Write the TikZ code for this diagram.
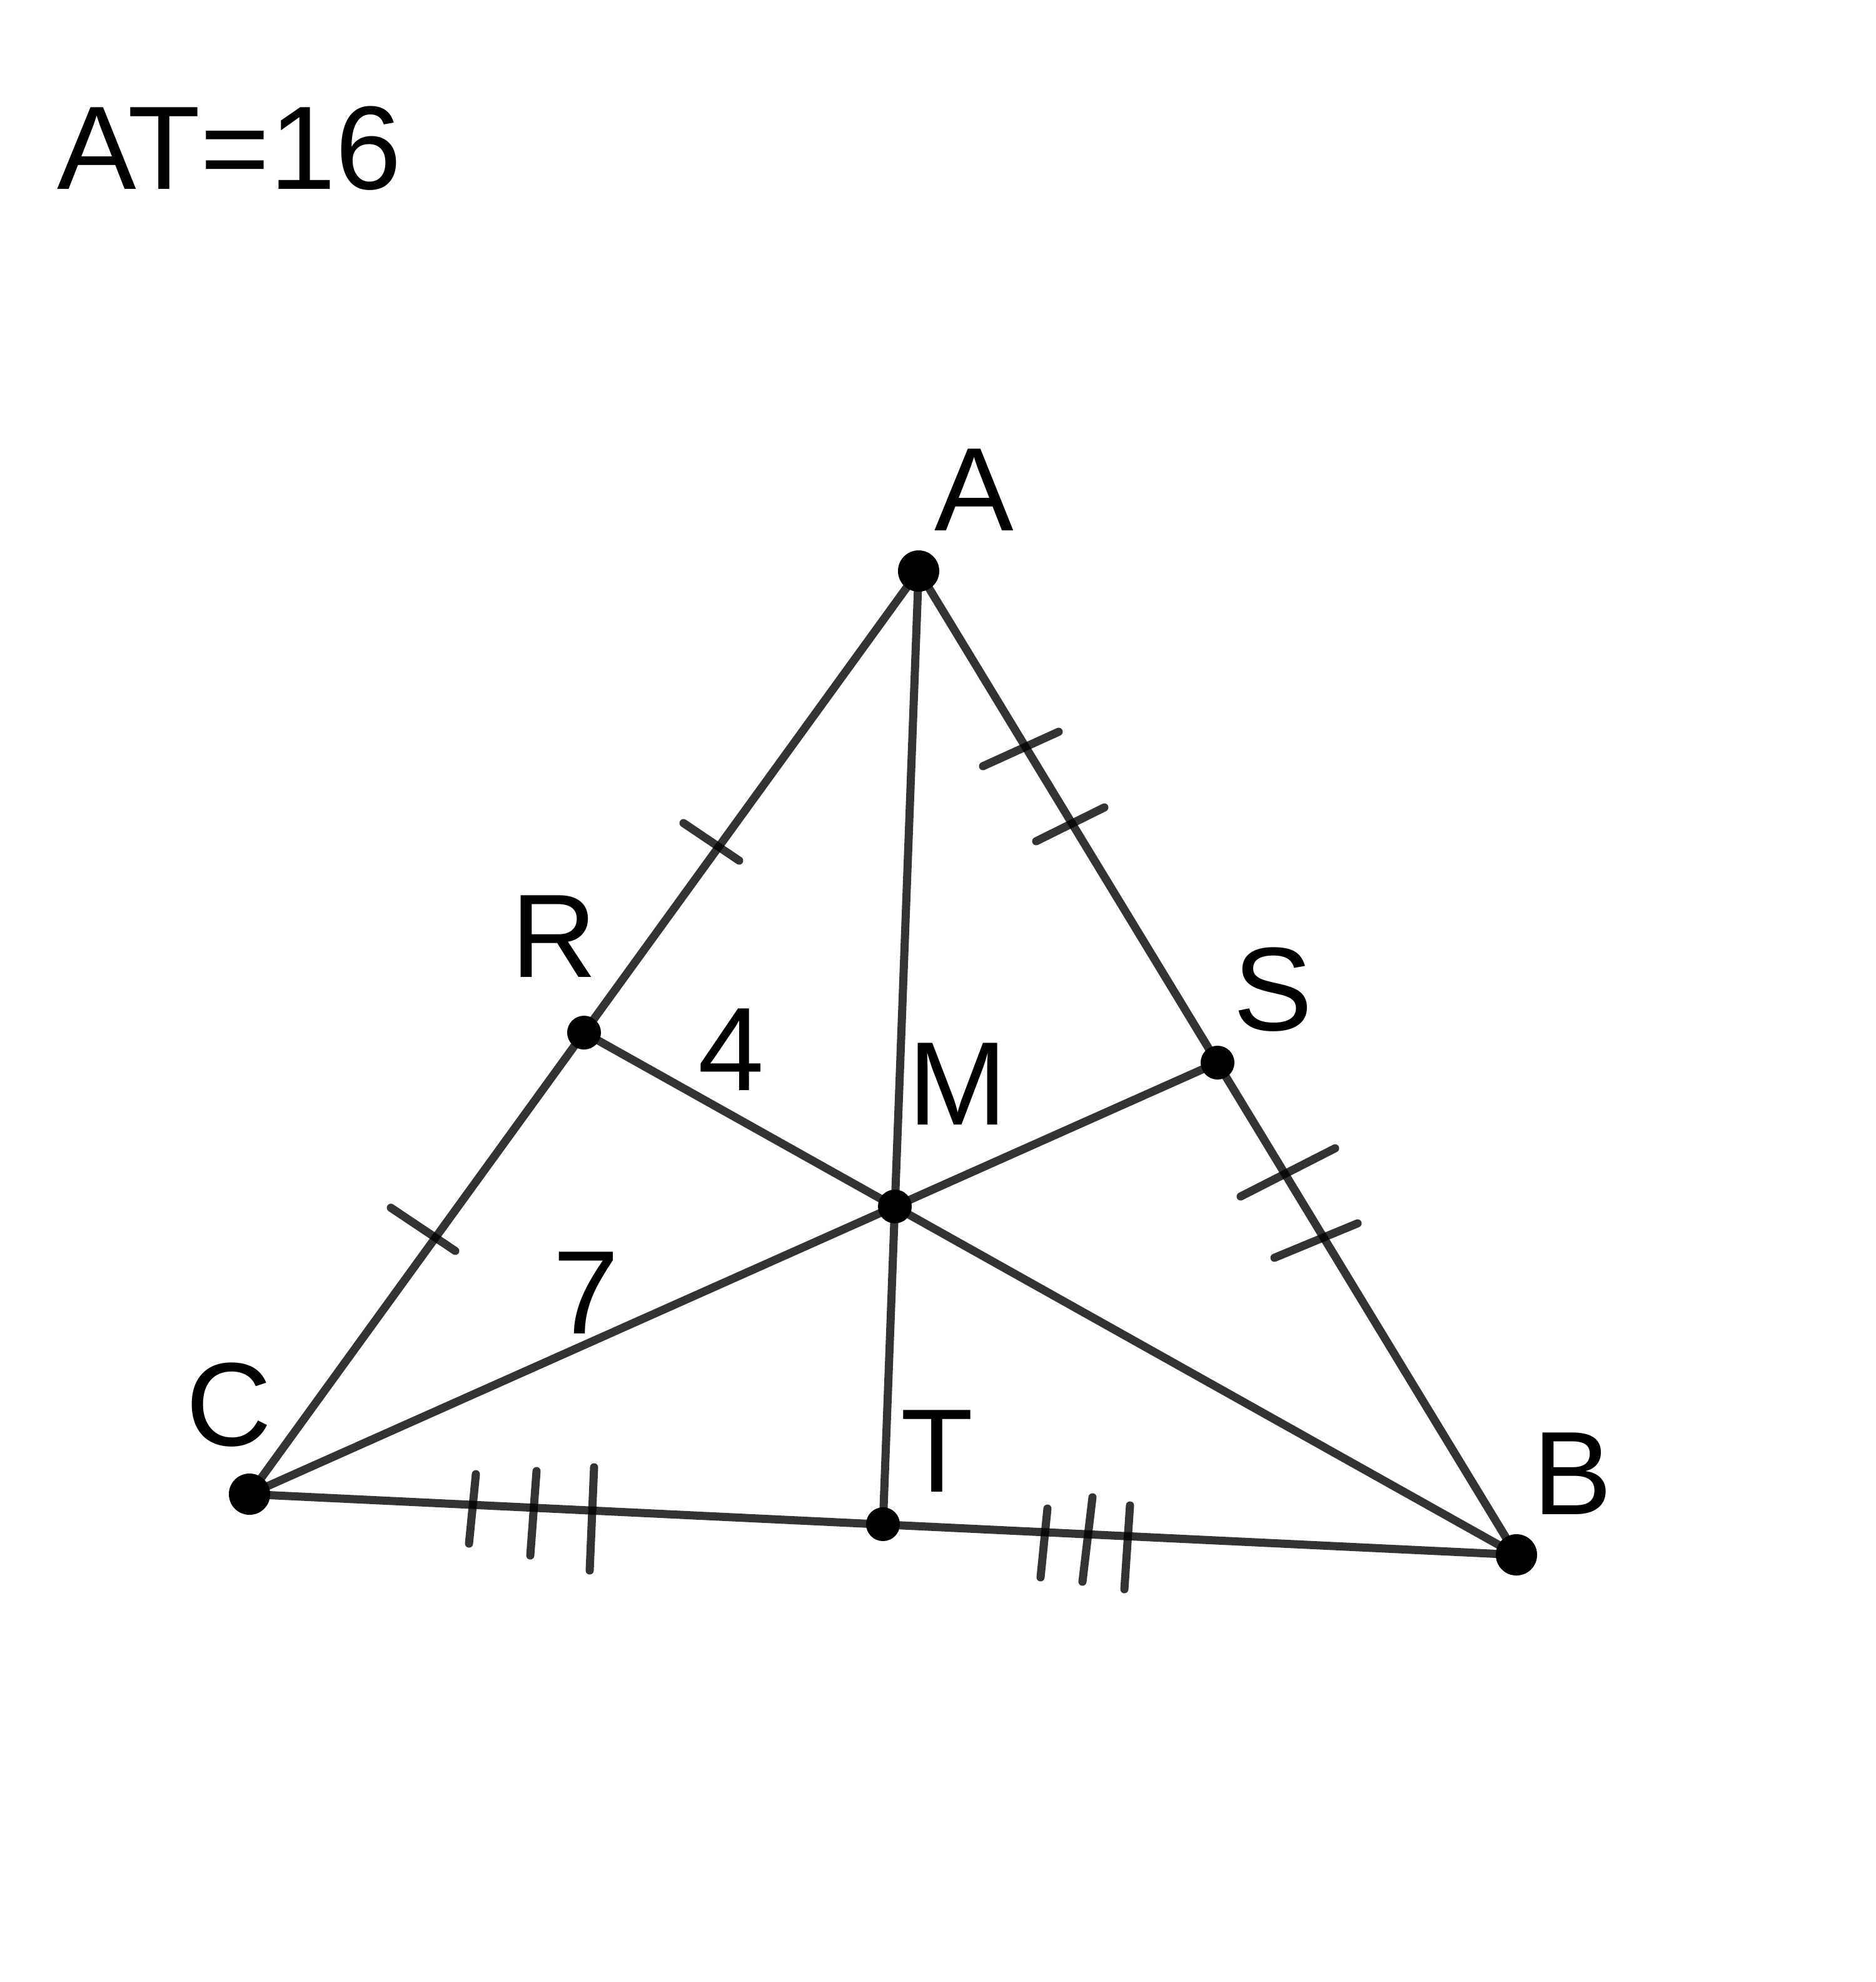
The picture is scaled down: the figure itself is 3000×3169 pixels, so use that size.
\documentclass[tikz,border=0pt]{standalone}
\usepackage{fontspec}
\setmainfont{Liberation Sans}
\begin{document}
\begin{tikzpicture}[x=0.01cm,y=-0.01cm,
  seg/.style={line width=0.13cm,black,draw opacity=0.8,line cap=round},
  tick/.style={line width=0.13cm,black,draw opacity=0.8,line cap=round},
  bigdot/.style={circle,fill=black,inner sep=0pt,minimum size=0.66cm},
  smalldot/.style={circle,fill=black,inner sep=0pt,minimum size=0.54cm},
  lab/.style={inner sep=0pt,font=\fontsize{54}{64}\selectfont}]
\useasboundingbox[fill=white] (0,0) rectangle (3000,3169);
% points
\coordinate (A) at (1469,913);
\coordinate (B) at (2425,2486);
\coordinate (C) at (399,2389);
\coordinate (R) at (934,1651);
\coordinate (S) at (1947,1699);
\coordinate (T) at (1412,2437);
\coordinate (M) at (1431,1929);
% sides and medians
\draw[seg] (A) -- (C);
\draw[seg] (A) -- (B);
\draw[seg] (C) -- (B);
\draw[seg] (A) -- (T);
\draw[seg] (R) -- (B);
\draw[seg] (S) -- (C);
% tick marks
\draw[tick] (1093,1316) -- (1182,1376);
\draw[tick] (625,1931) -- (728,2000);
\draw[tick] (1572,1225) -- (1693,1170);
\draw[tick] (1657,1345) -- (1766,1291);
\draw[tick] (1984,1913) -- (2135,1836);
\draw[tick] (2038,2011) -- (2171,1956);
\draw[tick] (761,2357) -- (750,2468);
\draw[tick] (858,2352) -- (848,2487);
\draw[tick] (950,2346) -- (943,2511);
\draw[tick] (1675,2412) -- (1664,2522);
\draw[tick] (1747,2394) -- (1731,2529);
\draw[tick] (1807,2407) -- (1798,2541);
% dots
\node[bigdot] (Ad) at (A) {};
\node[bigdot] (Bd) at (B) {};
\node[bigdot] (Cd) at (C) {};
\node[smalldot] (Rd) at (R) {};
\node[smalldot] (Sd) at (S) {};
\node[smalldot] (Td) at (T) {};
\node[smalldot] (Md) at (M) {};
% labels
\node[lab,anchor=base west] (title) at (91,302) {AT=16};
\node[lab] (lA) at (1558,783) {A};
\node[lab] (lR) at (886,1497) {R};
\node[lab] (l4) at (1169,1678) {4};
\node[lab] (lM) at (1532,1733) {M};
\node[lab] (lS) at (2036,1582) {S};
\node[lab] (l7) at (937,2067) {7};
\node[lab] (lC) at (366,2246) {C};
\node[lab] (lT) at (1498,2320) {T};
\node[lab] (lB) at (2515,2356) {B};
\end{tikzpicture}
\end{document}
